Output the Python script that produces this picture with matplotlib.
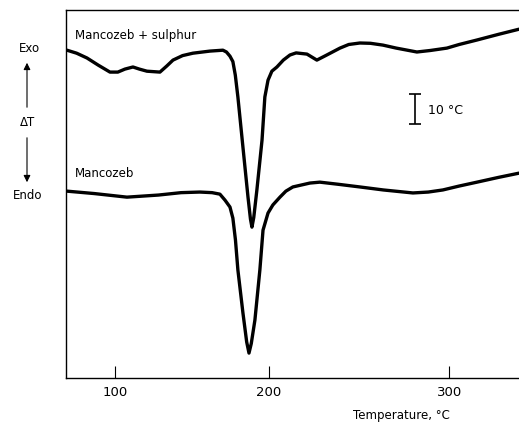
import numpy as np
import matplotlib
matplotlib.use("Agg")
import matplotlib.pyplot as plt

# DTA curves (temperature in C, delta T in arbitrary units)
tempSulphur = [64.7, 72.0, 79.7, 88.0, 96.4, 102.0, 107.0, 112.6, 117.0, 122.2, 131.0,
               135.5, 139.7, 146.0, 152.7, 163.6, 171.8, 174.0, 176.2, 178.0, 179.5,
               181.1, 184.2, 187.3, 188.8, 189.7, 190.8, 192.7, 195.8, 197.5, 199.4,
               201.7, 204.7, 208.5, 212.4, 216.0, 222.3, 228.0, 233.0, 241.1, 246.0,
               252.2, 258.0, 264.8, 272.0, 283.0, 290.0, 298.7, 305.0, 314.1, 325.0, 335.1]
dtSulphur = [109.3, 108.3, 106.7, 104.3, 102.0, 102.0, 103.0, 103.7, 103.0, 102.3, 102.0,
             104.0, 106.0, 107.5, 108.3, 109.0, 109.3, 108.7, 107.3, 105.5, 101.0,
             93.7, 77.0, 60.3, 53.0, 50.3, 53.5, 62.7, 79.3, 93.7, 99.3,
             102.3, 103.7, 106.0, 107.7, 108.4, 108.0, 106.0, 107.5, 110.0, 111.2,
             111.7, 111.6, 111.0, 110.0, 108.7, 109.2, 110.0, 111.2, 112.7, 114.6, 116.3]

tempMancozeb = [64.7, 85.0, 108.4, 130.0, 145.0, 157.2, 165.0, 169.9, 173.1, 176.2,
                178.0, 179.6, 181.1, 184.2, 186.5, 187.9, 189.3, 191.5, 194.5, 196.4,
                199.4, 202.3, 206.5, 210.0, 214.1, 224.0, 229.7, 240.0, 252.2, 265.0,
                280.9, 289.0, 296.6, 305.0, 314.1, 325.0, 335.1]
dtMancozeb = [62.3, 61.5, 60.3, 61.0, 61.8, 62.0, 61.8, 61.3, 59.3, 57.0,
              53.3, 46.0, 36.0, 21.7, 12.0, 8.3, 11.5, 19.3, 36.0, 49.3,
              55.0, 57.7, 60.3, 62.3, 63.7, 65.0, 65.3, 64.6, 63.7, 62.7,
              61.7, 62.0, 62.7, 64.0, 65.3, 66.9, 68.3]

xticks = [100, 200, 300]

# the chart paper temperature scale is not linear
def fwd(t):
    d = np.asarray(t, dtype=float) - 100
    return 1.408 * d + 0.00132 * d ** 2

def inv(p):
    p = np.asarray(p, dtype=float)
    arg = np.clip(1.982464 + 0.00528 * p, 0, None)
    return 100 + (-1.408 + np.sqrt(arg)) / 0.00264

fig = plt.figure(figsize=(5.19, 4.26), dpi=100)
ax = fig.add_axes([0.127, 0.1127, 0.873, 0.8638])
ax.set_xscale("function", functions=(fwd, inv))

ax.plot(tempSulphur, dtSulphur, color="black", lw=2.4, solid_capstyle="round", solid_joinstyle="round")
ax.plot(tempMancozeb, dtMancozeb, color="black", lw=2.4, solid_capstyle="round", solid_joinstyle="round")

ax.set_xlim(63.9, 335.1)
ax.set_ylim(0, 122.7)
ax.set_xticks(xticks)
ax.set_xticklabels([str(t) for t in xticks], fontsize=9.5)
ax.set_yticks([])
ax.tick_params(axis="x", direction="in", length=9, width=0.8, pad=6)
ax.spines["right"].set_visible(False)
for s in ["left", "top", "bottom"]:
    ax.spines[s].set_linewidth(1.0)

ax.text(0.02, 0.932, "Mancozeb + sulphur", transform=ax.transAxes, fontsize=8.5, va="center")
ax.text(0.02, 0.557, "Mancozeb", transform=ax.transAxes, fontsize=8.5, va="center")

# scale bar
ax.errorbar([282], [89.7], yerr=5, color="black", lw=1.2, capsize=4, capthick=1.2)
ax.text(288.8, 89.3, "10 °C", fontsize=9, va="center")

ax.set_xlabel("Temperature, °C", fontsize=8.5)
ax.xaxis.set_label_coords(0.74, -0.085)

# Exo / Endo annotations left of the axes
W, H = 519, 426
fig.text(29 / W, 1 - 49 / H, "Exo", fontsize=8.5, ha="center", va="center")
fig.text(28 / W, 1 - 123 / H, "ΔT", fontsize=8.5, ha="center", va="center")
fig.text(28 / W, 1 - 195 / H, "Endo", fontsize=8.5, ha="center", va="center")
fig.add_artist(matplotlib.patches.FancyArrowPatch((27 / W, 1 - 110 / H), (27 / W, 1 - 60 / H),
               transform=fig.transFigure, arrowstyle="-|>,head_length=4,head_width=2",
               color="black", lw=0.8))
fig.add_artist(matplotlib.patches.FancyArrowPatch((27 / W, 1 - 135 / H), (27 / W, 1 - 185 / H),
               transform=fig.transFigure, arrowstyle="-|>,head_length=4,head_width=2",
               color="black", lw=0.8))

fig.savefig("out.png", dpi=100)
